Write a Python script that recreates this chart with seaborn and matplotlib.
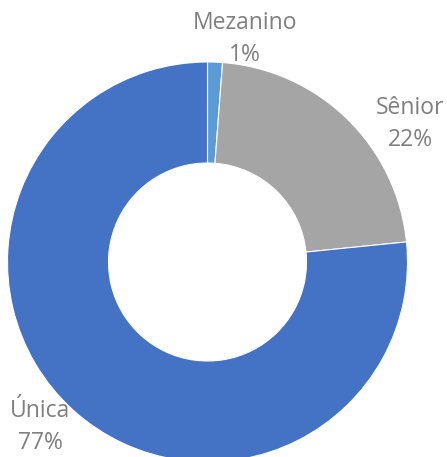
import matplotlib
matplotlib.use("Agg")
import matplotlib.pyplot as plt
import seaborn as sns

categories = ["Mezanino", "Sênior", "Única"]
shares = [1.2, 22.2, 76.6]
pct_labels = ["1%", "22%", "77%"]
colors = ["#5B9BD5", "#A5A5A5", "#4472C4"]

# label anchors in pixel coords (x, y from top)
label_pos = [(245, 39), (410, 124), (40, 427)]

sns.set_theme(style="white")
plt.rcParams["font.family"] = ["Open Sans", "DejaVu Sans"]

W, H = 447, 457
fig = plt.figure(figsize=(W / 100, H / 100), dpi=100)
ax = fig.add_axes([0, 0, 1, 1])

cx, cy, r = 207.5, H - 262, 200
ax.pie(shares, colors=sns.color_palette(colors), startangle=90, counterclock=False,
       center=(cx, cy), radius=r, frame=True,
       wedgeprops=dict(width=r * 0.505, edgecolor="white", linewidth=0.8))
ax.set_xlim(0, W)
ax.set_ylim(0, H)
ax.set_aspect("equal")
ax.axis("off")

for name, pct, (px, py) in zip(categories, pct_labels, label_pos):
    ax.text(px, H - py, f"{name}\n{pct}", ha="center", va="center",
            fontsize=16.5, color="#7F7F7F", linespacing=1.45)

fig.savefig("out.png", dpi=100)
